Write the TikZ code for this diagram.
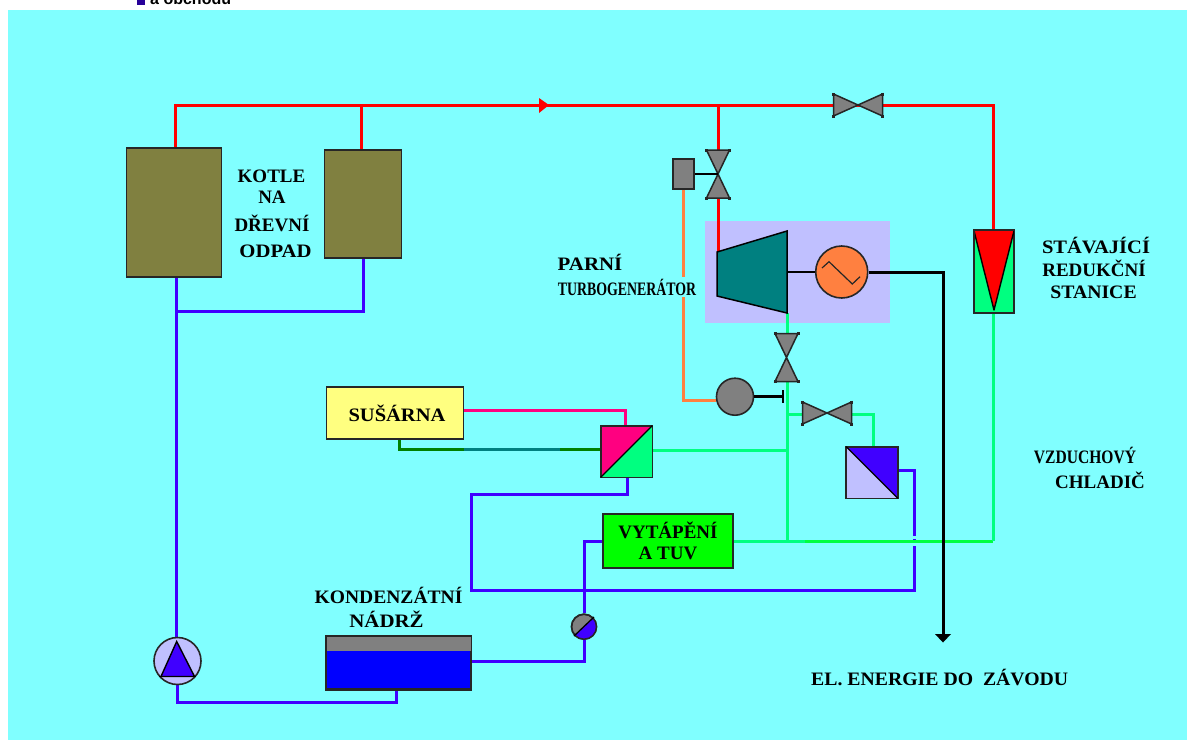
\documentclass[tikz,border=0pt]{standalone}
\usepackage{fontspec}
\usepackage{graphicx}
\setmainfont{Liberation Serif}
\newfontfamily\topfont{Liberation Sans}
\usetikzlibrary{arrows.meta}
\pgfdeclarelayer{back}
\pgfdeclarelayer{pipes}
\pgfsetlayers{back,pipes,main}
\definecolor{bgcyan}{HTML}{80FFFF}
\definecolor{lav}{HTML}{C0C0FF}
\definecolor{pipered}{HTML}{FF0000}
\definecolor{pipeblue}{HTML}{4000FF}
\definecolor{pipegreen}{HTML}{00FF80}
\definecolor{puregreen}{HTML}{00FF40}
\definecolor{pipeorange}{HTML}{FF8040}
\definecolor{pipepink}{HTML}{FF0080}
\definecolor{darkgreen}{HTML}{008000}
\definecolor{pipeteal}{HTML}{008080}
\definecolor{olive2}{HTML}{808040}
\definecolor{yellow2}{HTML}{FFFF80}
\definecolor{gray2}{HTML}{808080}
\newcommand{\sx}[2]{\scalebox{#1}[1]{#2}}
\newcommand{\valvefeet}[1]{%
  \foreach \cn in {north west,north east,south west,south east}{%
    \fill[black!85] ([xshift=-1.5pt,yshift=-1.5pt]#1.\cn) rectangle ([xshift=1.5pt,yshift=1.5pt]#1.\cn);}}
\tikzset{
  x=1pt,y=-1pt,
  pipe/.style={line width=3pt,line join=miter},
  redpipe/.style={pipe,pipered},
  bluepipe/.style={pipe,pipeblue},
  greenpipe/.style={pipe,pipegreen},
  edged/.style={draw=black!85,line width=1.6pt,inner sep=0pt},
  boxed/.style={edged,rectangle,font=\fontsize{19}{22}\bfseries\selectfont,align=center},
  vbox/.style={rectangle,inner sep=0pt,outer sep=0pt,minimum width=#1},
  valvefill/.style={draw=black!85,fill=gray2,line width=1.5pt,line join=miter},
  label/.style={font=\fontsize{19}{22}\bfseries\selectfont,inner sep=0pt,align=center,text=black},
  thin link/.style={draw=black,line width=1.3pt},
  thick link/.style={draw=black,line width=3pt},
}
\begin{document}
\begin{tikzpicture}
\useasboundingbox (0,0) rectangle (1187,740);
\begin{pgfonlayer}{back}
  \fill[white] (0,0) rectangle (1187,740);
  \node[inner sep=0pt,anchor=base west,font=\topfont\bfseries\fontsize{16}{16}\selectfont] (topnote) at (150,4) {a obchodu};
  \fill[pipeblue!60!black] (137,0) rectangle (145,5);
  \fill[bgcyan] (8,10) rectangle (1187,740);
  \fill[lav] (705,221) rectangle (890,323);
\end{pgfonlayer}

% boilers and boxes
\node[boxed,fill=olive2,minimum width=95,minimum height=129] (boilerA) at (174,212.5) {};
\node[boxed,fill=olive2,minimum width=77,minimum height=108] (boilerB) at (363,204) {};
\node[boxed,fill=yellow2,minimum width=137,minimum height=52] (susarna) at (395,413) {\hspace*{4pt}\sx{1.08}{SUŠÁRNA}};
\node[boxed,fill=green,minimum width=130,minimum height=54] (vytapeni) at (668,541) {VYTÁPĚNÍ\\[-1pt]A TUV};

% tank
\node[boxed,fill=blue,minimum width=144,minimum height=52] (tank) at (398.5,663) {};
\fill[gray2] (tank.north west) rectangle ([yshift=-14.5pt]tank.north east);
\draw[black!85,line width=1.6pt] (tank.north west) rectangle (tank.south east);

% main pump
\node[edged,circle,fill=lav,minimum size=47] (pump) at (177.5,661) {};
\fill[pipeblue,draw=black,line width=1.4pt,line join=miter] (176.7,641.5) -- (161,676.5) -- (194.5,676.5) -- cycle;
\draw[black,line width=1.4pt] (159,676.5) -- (196,676.5);

% small pump
\node[edged,circle,fill=gray2,minimum size=25] (smallpump) at (584,626.7) {};
\begin{scope}
  \clip (584,626.7) circle (12.5);
  \fill[pipeblue] (572,638) -- (596,615) -- (600,640) -- cycle;
\end{scope}
\draw[black!85,line width=1.4pt] (584,626.7) circle (12.5);
\draw[black,line width=1.3pt] (574,636) -- (594,617);

% heat exchangers
\node[edged,rectangle,minimum width=50,minimum height=50] (hxA) at (626.5,451.5) {};
\fill[pipepink] (hxA.north west) -- (hxA.north east) -- (hxA.south west) -- cycle;
\fill[pipegreen] (hxA.north east) -- (hxA.south east) -- (hxA.south west) -- cycle;
\draw[black!85,line width=1.6pt] (hxA.north west) rectangle (hxA.south east);
\draw[black,line width=1.3pt] (hxA.north east) -- (hxA.south west);

\node[edged,rectangle,minimum width=50,minimum height=50] (hxB) at (872,472.5) {};
\fill[pipeblue] (hxB.north west) -- (hxB.north east) -- (hxB.south east) -- cycle;
\fill[lav] (hxB.north west) -- (hxB.south west) -- (hxB.south east) -- cycle;
\draw[black!85,line width=1.6pt] (hxB.north west) rectangle (hxB.south east);
\draw[black,line width=1.3pt] (hxB.north west) -- (hxB.south east);

% reduction station
\node[edged,rectangle,fill=pipegreen,minimum width=39,minimum height=82] (station) at (994,271.5) {};
\fill[pipered,draw=black,line width=1.4pt,line join=round] (station.north west) -- (station.north east) -- (994,310) -- cycle;
\draw[black!85,line width=1.6pt] (station.north west) rectangle (station.south east);

% turbine and generator
\node[inner sep=0pt,minimum width=70,minimum height=82] (turbine) at (752,272) {};
\draw[fill=pipeteal,draw=black,line width=1.5pt,line join=miter] (717,252) -- (787,231) -- (787,313) -- (717,296) -- cycle;
\node[edged,circle,fill=pipeorange,minimum size=52] (gen) at (841.7,272) {};
\draw[black!85,line width=1.2pt] (822,268) -- (829,261.7) -- (852.3,284) -- (860,276.7);
\draw[thin link] (787,272) -- (gen.west);

% valves
\node[vbox=49,minimum height=22] (vtop) at (858,105) {};
\draw[valvefill] (vtop.north west) -- (vtop.south east) -- (vtop.north east) -- (vtop.south west) -- cycle;
\valvefeet{vtop}
\node[vbox=23,minimum height=48] (vturb) at (718,174) {};
\draw[valvefill] (vturb.north west) -- (vturb.north east) -- (vturb.south west) -- (vturb.south east) -- cycle;
\valvefeet{vturb}
\node[vbox=23,minimum height=48] (vout) at (786.5,357.5) {};
\draw[valvefill] (vout.north west) -- (vout.north east) -- (vout.south west) -- (vout.south east) -- cycle;
\valvefeet{vout}
\node[vbox=49,minimum height=22] (vhx) at (827,413) {};
\draw[valvefill] (vhx.north west) -- (vhx.south east) -- (vhx.north east) -- (vhx.south west) -- cycle;
\valvefeet{vhx}

% actuators
\node[edged,rectangle,fill=gray2,minimum width=21,minimum height=30] (act) at (683.5,174) {};
\draw[thin link] (act.east) -- (vturb.center);
\node[edged,circle,fill=gray2,minimum size=37] (servo) at (735,396.7) {};
\coordinate (stem) at (783,396.7);
\draw[draw=black,line width=2.6pt] (servo.east) -- (stem);
\draw[black,line width=1.3pt] (783,390) -- (783,403);

% junctions
\coordinate (jBoil) at (361,105);
\coordinate (jTurb) at (718,105);
\coordinate (jCorner) at (993,105);
\coordinate (jBlue) at (176,311);
\coordinate (jGa) at (787,414);
\coordinate (jGb) at (787,450);
\coordinate (jGc) at (787,541);
\coordinate (jGd) at (805,541);
\coordinate (jGe) at (993,541);

\begin{pgfonlayer}{pipes}
  % steam
  \draw[redpipe] (175,148) |- (jCorner) -- (993,230);
  \draw[redpipe] (jBoil) -- (361,150);
  \draw[redpipe] (jTurb) -- (vturb.north);
  \draw[redpipe] (vturb.south) -- (718,252);
  % condensate
  \draw[bluepipe] (176,277) -- (176,640);
  \draw[bluepipe] (boilerB.south) |- (jBlue);
  \draw[bluepipe] (pump.south) |- (396,702) -- (396,689);
  \draw[bluepipe] (tank.east |- 0,661) -| (smallpump.south);
  \draw[bluepipe] (smallpump.north) |- (vytapeni.west);
  \draw[bluepipe] (627,477) -- (627,494) -| (471,590) -| (914,470) -- (hxB.east |- 0,470);
  % low pressure steam
  \draw[greenpipe] (787,313) -- (787,333.5);
  \draw[greenpipe] (787,381.5) -- (jGc);
  \draw[greenpipe] (jGa) -- (vhx.west |- 0,414);
  \draw[greenpipe] (vhx.east |- 0,414) -| (873,447);
  \draw[greenpipe] (hxA.east |- 0,450) -- (jGb);
  \draw[greenpipe] (vytapeni.east) -- (jGd);
  \draw[pipe,puregreen] (jGd) -- (jGe);
  \draw[greenpipe] (jGe) -- (993,313);
  % others
  \draw[pipe,pipepink] (susarna.east |- 0,410) -- (625.5,410) -- (625.5,426);
  \draw[pipe,darkgreen] (399,439) -- (399,449.5) -- (464,449.5);
  \draw[pipe,pipeteal] (464,449.5) -- (560,449.5);
  \draw[pipe,darkgreen] (560,449.5) -- (601,449.5);
  \draw[pipe,pipeorange] (act.south) -- (683.5,400) -- (servo.west |- 0,400);
  % gap where the blue line passes the green one
  \fill[bgcyan] (910,536) rectangle (918,539.4);
  \fill[bgcyan] (910,542.6) rectangle (918,546);
  % power line
  \draw[thick link] (gen.east) -- (943,272) -- (943,634);
  \fill[black] (935,634) -- (951,634) -- (943,642.5) -- cycle;
  % flow arrow
  \fill[pipered] (539,98) -- (549,105) -- (539,113) -- cycle;
\end{pgfonlayer}

% labels
\node[label] (kotle) at (271.5,176) {KOTLE};
\node[label] (na) at (272,197) {NA};
\node[label] (drevni) at (272,223) {DŘEVNÍ};
\node[label] (odpad) at (275.5,251) {\sx{1.09}{ODPAD}};
\node[label] (parni) at (590,262) {\sx{1.1}{PARNÍ}};
\node[label,fill=bgcyan,inner sep=2pt] (turbogen) at (627,287) {\sx{0.73}{TURBOGENERÁTOR}};
\node[label] (stav) at (1096,245) {\sx{1.08}{STÁVAJÍCÍ}};
\node[label] (reduk) at (1094,268) {REDUKČNÍ};
\node[label] (stanice) at (1093.5,292) {\sx{1.04}{STANICE}};
\node[label] (vzduch) at (1085,455) {\sx{0.82}{VZDUCHOVÝ}};
\node[label] (chladic) at (1100,480) {CHLADIČ};
\node[label] (kond) at (388.5,595) {\sx{1.03}{KONDENZÁTNÍ}};
\node[label] (nadrz) at (386.5,619) {\sx{1.1}{NÁDRŽ}};
\node[label,anchor=west] (el) at (811,677) {\sx{1.04}{EL. ENERGIE DO\ \ ZÁVODU}};
\end{tikzpicture}
\end{document}
